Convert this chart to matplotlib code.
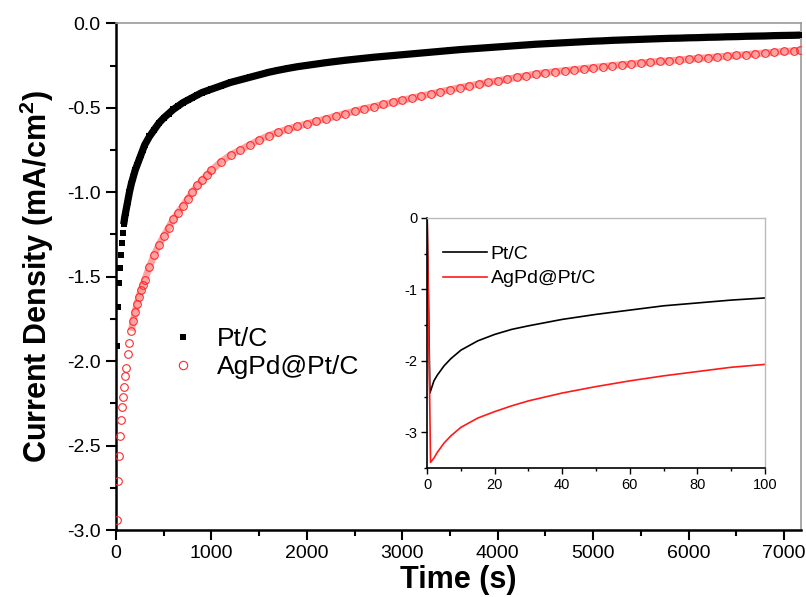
import numpy as np
import matplotlib.pyplot as plt
from matplotlib.ticker import MultipleLocator, FormatStrFormatter

plt.rcParams['font.family'] = ['Liberation Sans', 'DejaVu Sans']
plt.rcParams['axes.unicode_minus'] = False
plt.rcParams['mathtext.fontset'] = 'custom'
plt.rcParams['mathtext.bf'] = 'Liberation Sans:bold'
plt.rcParams['mathtext.rm'] = 'Liberation Sans'

# main chronoamperometry data (time in s, current density in mA/cm2)
t_main = [10, 20, 30, 40, 50, 60, 70, 80, 90, 100,
          120, 140, 160, 180, 200, 220, 240, 260, 280, 300,
          350, 400, 450, 500, 550, 600, 650, 700, 750, 800, 850, 900, 950, 1000,
          1100, 1200, 1300, 1400, 1500, 1600, 1700, 1800, 1900, 2000,
          2100, 2200, 2300, 2400, 2500, 2600, 2700, 2800,
          2900, 3000, 3100, 3200, 3300, 3400, 3500, 3600, 3700,
          3800, 3900, 4000, 4100, 4200, 4300, 4400, 4500,
          4600, 4700, 4800, 4900, 5000, 5100, 5200, 5300, 5400, 5500, 5600, 5700, 5800,
          5900, 6000, 6100, 6200, 6300, 6400, 6500, 6600, 6700, 6800, 6900, 7000, 7100, 7170]

ptc_main = [-1.91, -1.68, -1.54, -1.45, -1.37, -1.30, -1.24, -1.19, -1.15, -1.12,
            -1.06, -1.00, -0.95, -0.91, -0.87, -0.84, -0.81, -0.78, -0.75, -0.72,
            -0.67, -0.63, -0.59, -0.56, -0.535, -0.51, -0.49, -0.47, -0.455, -0.44, -0.425, -0.41, -0.40, -0.39,
            -0.37, -0.35, -0.335, -0.32, -0.305, -0.29, -0.278, -0.267, -0.257, -0.249,
            -0.241, -0.233, -0.226, -0.219, -0.213, -0.207, -0.201, -0.196,
            -0.191, -0.186, -0.181, -0.176, -0.171, -0.166, -0.161, -0.156, -0.152,
            -0.148, -0.144, -0.140, -0.136, -0.132, -0.128, -0.124, -0.121,
            -0.118, -0.115, -0.112, -0.109, -0.106, -0.104, -0.101, -0.099, -0.097, -0.095, -0.093, -0.091, -0.089,
            -0.088, -0.086, -0.085, -0.083, -0.082, -0.080, -0.079, -0.077, -0.076, -0.075, -0.073, -0.072, -0.071, -0.070]

agpd_main = [-2.94, -2.71, -2.56, -2.44, -2.35, -2.27, -2.21, -2.15, -2.09, -2.04,
             -1.96, -1.89, -1.82, -1.76, -1.71, -1.66, -1.62, -1.58, -1.55, -1.52,
             -1.44, -1.37, -1.31, -1.26, -1.21, -1.16, -1.12, -1.08, -1.04, -1.00, -0.96, -0.93, -0.90, -0.87,
             -0.82, -0.78, -0.75, -0.72, -0.69, -0.665, -0.645, -0.625, -0.61, -0.595,
             -0.58, -0.565, -0.55, -0.535, -0.52, -0.505, -0.493, -0.48,
             -0.468, -0.455, -0.443, -0.43, -0.418, -0.405, -0.393, -0.381, -0.37,
             -0.36, -0.35, -0.34, -0.33, -0.32, -0.31, -0.30, -0.292,
             -0.286, -0.28, -0.274, -0.268, -0.262, -0.256, -0.25, -0.245, -0.24, -0.235, -0.23, -0.225, -0.221,
             -0.217, -0.212, -0.208, -0.203, -0.199, -0.194, -0.19, -0.185, -0.18, -0.176, -0.171, -0.167, -0.163, -0.16]

# inset: first 100 s
t_ins = [0, 0.8, 2, 3, 5, 7, 10, 15, 20, 25, 30, 40, 50, 60, 70, 80, 90, 100]
ptc_ins = [0, -2.45, -2.28, -2.20, -2.07, -1.97, -1.85, -1.72, -1.63, -1.56, -1.51,
           -1.42, -1.35, -1.29, -1.23, -1.19, -1.15, -1.12]
t_ins_r = [0, 1, 2, 3, 5, 7, 10, 15, 20, 25, 30, 40, 50, 60, 70, 80, 90, 100]
agpd_ins = [0, -3.42, -3.36, -3.28, -3.15, -3.05, -2.93, -2.80, -2.71, -2.63, -2.56,
            -2.45, -2.36, -2.28, -2.21, -2.15, -2.09, -2.05]

labels = ['Pt/C', 'AgPd@Pt/C']

t = np.array(t_main)
ptc = np.array(ptc_main)
agpd = np.array(agpd_main)

fig = plt.figure(figsize=(8.06, 5.97), dpi=100)
ax = fig.add_axes([0.144, 0.112, 0.850, 0.849])

# dense part drawn as bands behind the markers
mb = t >= 80
ax.plot(t[mb], ptc[mb], '-', color='black', lw=5.2, solid_capstyle='butt', zorder=2)
mr = t >= 150
ax.plot(t[mr], agpd[mr], '-', color='#ff3030', lw=5, alpha=0.45, solid_capstyle='butt', zorder=2)
ax.plot(t, ptc, 's', color='black', ms=4.8, mew=0, zorder=3)
ax.plot(t, agpd, 'o', mfc='none', mec='#ff2a2a', ms=5.5, mew=0.8, zorder=3)

# legend handles
ax.plot([], [], 's', color='black', ms=5, mew=0, label=labels[0])
ax.plot([], [], 'o', mfc='none', mec='#ff2a2a', ms=6, mew=0.8, label=labels[1])
h, l = ax.get_legend_handles_labels()
ax.legend(h, l, loc='upper left', bbox_to_anchor=(0.086, 0.40), frameon=False,
          borderpad=0, borderaxespad=0,
          fontsize=19, handlelength=0.6, handletextpad=1.0, labelspacing=0.15)

ax.set_xlim(0, 7180)
ax.set_ylim(-3.0, 0.0)
ax.xaxis.set_major_locator(MultipleLocator(1000))
ax.xaxis.set_minor_locator(MultipleLocator(500))
ax.yaxis.set_major_locator(MultipleLocator(0.5))
ax.yaxis.set_minor_locator(MultipleLocator(0.25))
ax.yaxis.set_major_formatter(FormatStrFormatter('%.1f'))
ax.tick_params(which='major', direction='out', length=7, width=1.5, labelsize=14, pad=4)
ax.tick_params(which='minor', direction='out', length=4, width=1.5)
for s in ['left', 'bottom']:
    ax.spines[s].set_linewidth(1.8)
for s in ['top', 'right']:
    ax.spines[s].set_color('#999999')
    ax.spines[s].set_linewidth(1.2)
ax.set_xlabel('Time (s)', fontsize=22, fontweight='bold', labelpad=2)
ax.set_ylabel('Current Density (mA/cm$\\mathbf{^2}$)', fontsize=22, fontweight='bold', labelpad=8)

# inset
ins = fig.add_axes([0.530, 0.216, 0.419, 0.419])
ins.plot(t_ins, ptc_ins, color='black', lw=1.2, label=labels[0])
ins.plot(t_ins_r, agpd_ins, color='#ff1a1a', lw=1.2, label=labels[1])
ins.set_xlim(0, 100)
ins.set_ylim(-3.5, 0)
ins.xaxis.set_major_locator(MultipleLocator(20))
ins.xaxis.set_minor_locator(MultipleLocator(10))
ins.yaxis.set_major_locator(MultipleLocator(1))
ins.yaxis.set_minor_locator(MultipleLocator(0.5))
ins.tick_params(which='major', direction='out', length=4, width=1, labelsize=10.5, pad=3)
ins.tick_params(which='minor', direction='out', length=2.5, width=1)
for s in ['left', 'bottom']:
    ins.spines[s].set_linewidth(1.2)
for s in ['top', 'right']:
    ins.spines[s].set_color('#bbbbbb')
    ins.spines[s].set_linewidth(1.0)
ins.legend(loc='upper left', bbox_to_anchor=(0.047, 0.89), frameon=False, fontsize=14,
           borderpad=0, borderaxespad=0,
           handlelength=2.25, handletextpad=0.2, labelspacing=0.35)

fig.savefig('out.png', dpi=100)
